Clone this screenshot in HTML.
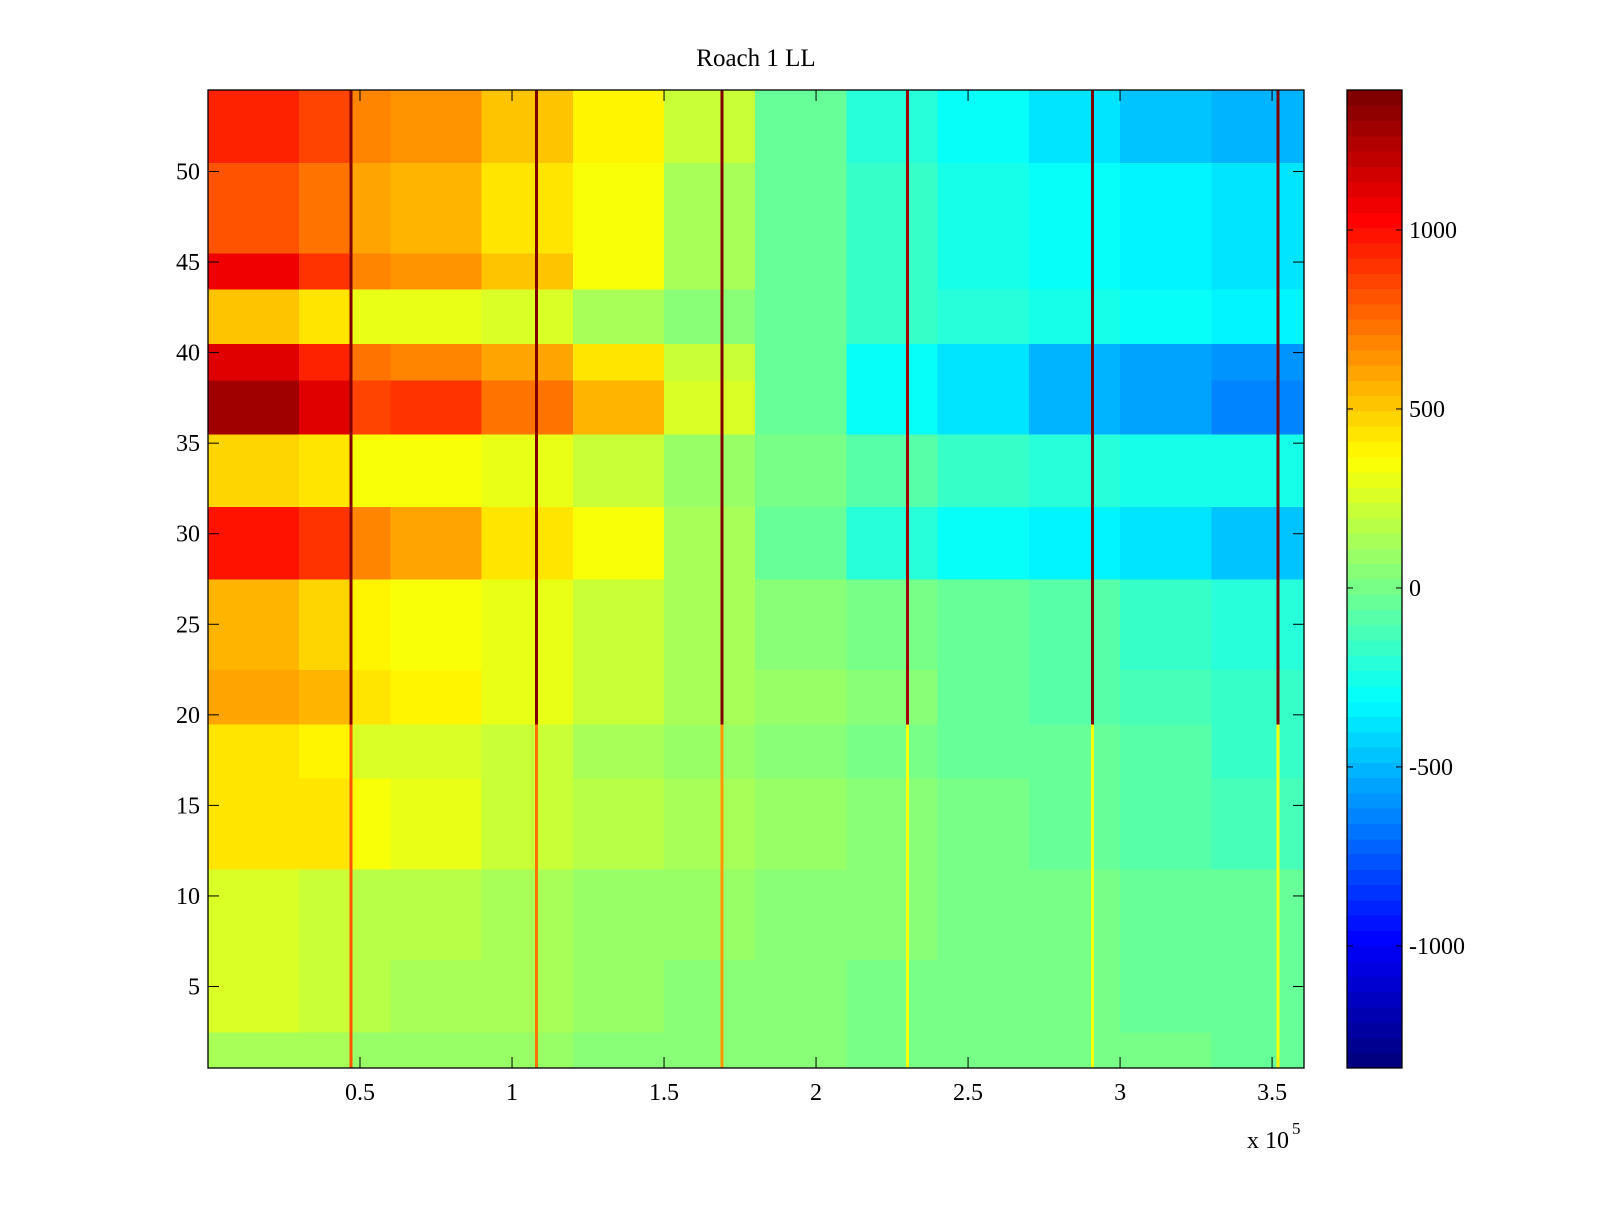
<!DOCTYPE html>
<html><head><meta charset="utf-8"><style>
body{margin:0;background:#fff;}
svg text{font-family:"Liberation Serif",serif;fill:#000;}
</style></head><body>
<svg id="chart" width="1600" height="1200" viewBox="0 0 1600 1200" xmlns="http://www.w3.org/2000/svg">
<rect width="1600" height="1200" fill="#fff"/>
<text x="756" y="66" font-size="25" text-anchor="middle">Roach 1 LL</text>
<g id="cells" shape-rendering="crispEdges"></g>
<g id="cbar" shape-rendering="crispEdges"></g>
<g id="axes"></g>
</svg>
<script>
// x segment edges (units of 1e5)
const segEdges = [0,0.3,0.47,0.6,0.9,1.2,1.5,1.8,2.1,2.4,2.7,3.0,3.3,3.605];
// profiles: value per segment
const profiles = [
 [150,140,110,100,80,60,40,30,20,10,0,-10,-20],
 [250,230,180,150,120,80,60,40,20,10,0,-20,-40],
 [250,230,190,180,140,100,70,50,30,10,-10,-30,-50],
 [450,420,330,300,220,170,120,80,40,0,-40,-80,-120],
 [420,380,280,250,200,150,100,60,20,-20,-60,-100,-150],
 [600,560,450,400,300,220,150,80,30,-30,-80,-130,-180],
 [550,480,380,350,300,220,150,60,0,-50,-100,-150,-200],
 [1000,900,700,600,450,350,150,-50,-200,-300,-350,-400,-450],
 [480,420,330,350,300,200,100,0,-100,-150,-200,-250,-250],
 [1270,1100,850,900,750,550,250,-50,-300,-400,-500,-550,-650],
 [1100,950,750,700,600,450,200,-50,-300,-400,-500,-550,-600],
 [500,420,300,300,250,150,50,-50,-150,-200,-250,-300,-350],
 [1050,900,700,650,500,350,150,-50,-150,-250,-300,-350,-400],
 [800,720,600,550,450,350,150,-50,-150,-250,-300,-350,-400],
 [950,850,700,650,500,380,200,-50,-200,-300,-400,-450,-500]
];
// profile index for rows 1..54
const rowProfile = [0,0,1,1,1,1,2,2,2,2,2,3,3,3,3,3,4,4,4,5,5,5,6,6,6,6,6,7,7,7,7,8,8,8,8,9,9,9,10,10,11,11,11,12,12,13,13,13,13,13,14,14,14,14];
// vertical spike lines
const spikeX = [0.47,1.08,1.69,2.30,2.91,3.52];
const spikeUpper = [1350,1350,1350,1300,1350,1350];
const spikeLower = [800,750,650,350,350,350];
const xTicks = [0.5,1,1.5,2,2.5,3,3.5];
const xTickLabels = ["0.5","1","1.5","2","2.5","3","3.5"];
const yTicks = [5,10,15,20,25,30,35,40,45,50];
const cTicks = [-1000,-500,0,500,1000];

const L=208,R=1304,T=90,B=1068;
const xMin=0,xMax=3.605,yMin=0.5,yMax=54.5,cMin=-1341,cMax=1391;
const sx=v=>L+(v-xMin)/(xMax-xMin)*(R-L);
const sy=v=>B-(v-yMin)/(yMax-yMin)*(B-T);
function jet(v){
  let t=(v-cMin)/(cMax-cMin); t=Math.max(0,Math.min(1,t));
  t=Math.min(63,Math.floor(t*64))/63;
  const f=x=>Math.max(0,Math.min(1,x));
  const r=f(Math.min(4*t-1.5,-4*t+4.5)),g=f(Math.min(4*t-0.5,-4*t+3.5)),b=f(Math.min(4*t+0.5,-4*t+2.5));
  return `rgb(${Math.round(r*255)},${Math.round(g*255)},${Math.round(b*255)})`;
}
const NS="http://www.w3.org/2000/svg";
function mk(tag,attrs,parent){const e=document.createElementNS(NS,tag);for(const k in attrs)e.setAttribute(k,attrs[k]);parent.appendChild(e);return e;}
const cells=document.getElementById('cells');
for(let r=0;r<rowProfile.length;r++){
  const prof=profiles[rowProfile[r]];
  const y0=sy(r+1.5),y1=sy(r+0.5);
  for(let c=0;c<prof.length;c++){
    const x0=sx(segEdges[c]),x1=sx(segEdges[c+1]);
    const el=mk('rect',{x:x0,y:y0,width:x1-x0+0.5,height:y1-y0+0.5,fill:jet(prof[c])},cells);
    
    
  }
  for(let s=0;s<spikeX.length;s++){
    const v=(r+1)>=20?spikeUpper[s]:spikeLower[s];
    const el=mk('rect',{x:sx(spikeX[s])-1.5,y:y0,width:3,height:y1-y0+0.5,fill:jet(v)},cells);
    
    
  }
}
const axes=document.getElementById('axes');
const frame=mk('rect',{x:L,y:T,width:R-L,height:B-T,fill:'none',stroke:'#000','stroke-width':1.3},axes);


xTicks.forEach((v,i)=>{
  const x=sx(v);
  mk('line',{x1:x,y1:B,x2:x,y2:B-11,stroke:'#000'},axes);
  mk('line',{x1:x,y1:T,x2:x,y2:T+11,stroke:'#000'},axes);
  const t=mk('text',{x:x,y:1100,'font-size':24,'text-anchor':'middle'},axes);
  t.textContent=xTickLabels[i];
  
  
});
yTicks.forEach(v=>{
  const y=sy(v);
  mk('line',{x1:L,y1:y,x2:L+11,y2:y,stroke:'#000'},axes);
  mk('line',{x1:R,y1:y,x2:R-11,y2:y,stroke:'#000'},axes);
  const t=mk('text',{x:L-8,y:y+8,'font-size':24,'text-anchor':'end'},axes);
  t.textContent=v;
  
  
});
const ex=mk('text',{x:1247,y:1148,'font-size':24},axes);
ex.textContent='x 10';


const ex2=mk('text',{x:1292,y:1134,'font-size':17},axes);
ex2.textContent='5';


// colorbar
const CL=1347,CR=1402;
const cb=document.getElementById('cbar');
const cy=v=>B-(v-cMin)/(cMax-cMin)*(B-T);
for(let i=0;i<64;i++){
  const v0=cMin+(cMax-cMin)*i/64,v1=cMin+(cMax-cMin)*(i+1)/64;
  const el=mk('rect',{x:CL,y:cy(v1),width:CR-CL,height:cy(v0)-cy(v1)+0.5,fill:jet((v0+v1)/2)},cb);
  
  
}
const cf=mk('rect',{x:CL,y:T,width:CR-CL,height:B-T,fill:'none',stroke:'#000','stroke-width':1.3},axes);


cTicks.forEach(v=>{
  const y=cy(v);
  mk('line',{x1:CL,y1:y,x2:CL+6,y2:y,stroke:'#000'},axes);
  mk('line',{x1:CR,y1:y,x2:CR-6,y2:y,stroke:'#000'},axes);
  const t=mk('text',{x:CR+7,y:y+8,'font-size':24},axes);
  t.textContent=v;
  
  
});
</script>
</body></html>
